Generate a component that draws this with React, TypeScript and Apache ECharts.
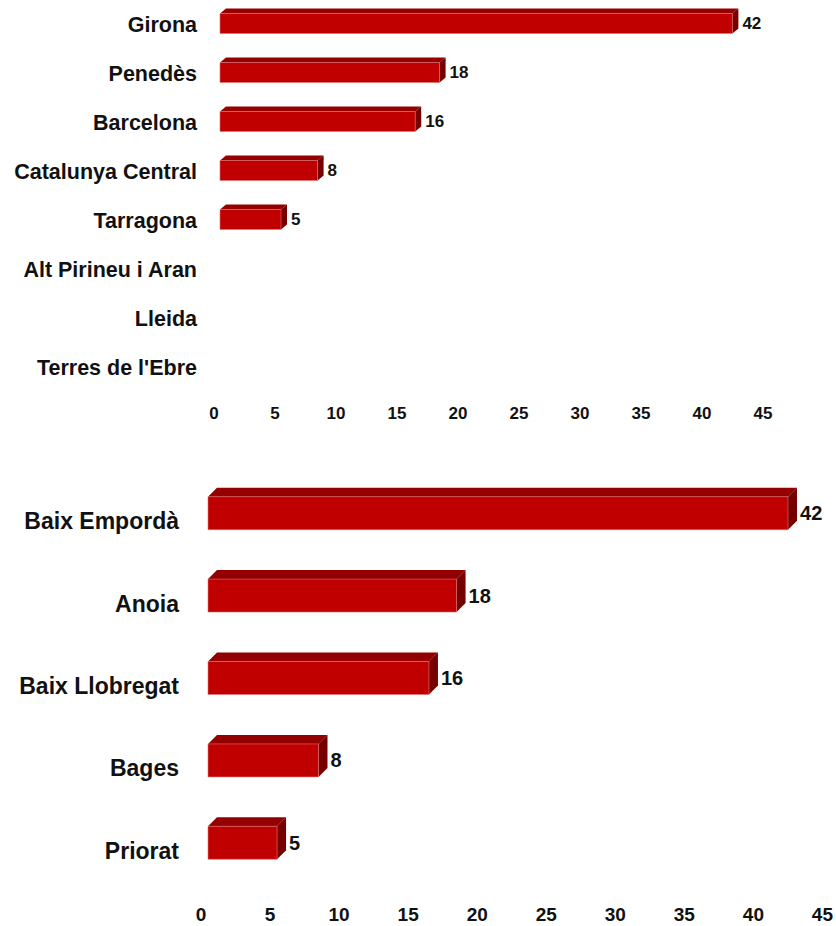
import React, { useEffect, useRef } from "react";
import * as echarts from "echarts";

const topCategories = [
  "Girona",
  "Penedès",
  "Barcelona",
  "Catalunya Central",
  "Tarragona",
  "Alt Pirineu i Aran",
  "Lleida",
  "Terres de l'Ebre",
];
const topValues = [42, 18, 16, 8, 5, 0, 0, 0];

const bottomCategories = ["Baix Empordà", "Anoia", "Baix Llobregat", "Bages", "Priorat"];
const bottomValues = [42, 18, 16, 8, 5];

const axisTicks = [0, 5, 10, 15, 20, 25, 30, 35, 40, 45];

const FONT = "'Liberation Sans', Arial, sans-serif";
const FRONT = "#C00000";
const TOPFACE = "#940000";
const SIDE = "#760000";

function make3DRender(frontH: number, dx: number, dy: number, offsetY: number, gap: number, labelSize: number) {
  return (params: any, api: any) => {
    const v = api.value(0);
    const idx = api.value(1);
    if (!v) return { type: "group", children: [] };
    const s = api.coord([0, idx]);
    const e = api.coord([v, idx]);
    const x0 = s[0];
    const x1 = e[0];
    const cy = s[1] + offsetY;
    const yT = cy - frontH / 2;
    const yB = cy + frontH / 2;
    return {
      type: "group",
      children: [
        {
          type: "polygon",
          shape: { points: [[x0, yT], [x0 + dx, yT - dy], [x1 + dx, yT - dy], [x1, yT]] },
          style: { fill: TOPFACE },
        },
        {
          type: "polygon",
          shape: { points: [[x1, yT], [x1 + dx, yT - dy], [x1 + dx, yB - dy], [x1, yB]] },
          style: { fill: SIDE },
        },
        {
          type: "rect",
          shape: { x: x0, y: yT, width: x1 - x0, height: frontH },
          style: { fill: FRONT, stroke: "#e07070", lineWidth: 0.6 },
        },
        {
          type: "text",
          x: x1 + dx + gap,
          y: cy,
          style: {
            text: String(v),
            fill: "#111",
            font: `bold ${labelSize}px ${FONT}`,
            textAlign: "left",
            textVerticalAlign: "middle",
          },
        },
      ],
    };
  };
}

export default function App() {
  const ref = useRef<HTMLDivElement>(null);
  useEffect(() => {
    document.body.style.margin = "0";
    const chart = echarts.init(ref.current!, null, { renderer: "svg" });
    const tickFmt = (val: number) => (axisTicks.includes(val) ? String(val) : "");
    chart.setOption({
      animation: false,
      backgroundColor: "#fff",
      grid: [
        { left: 220, width: 549, top: -4, height: 396 },
        { left: 208, width: 624, top: 480, height: 412 },
      ],
      xAxis: [
        {
          gridIndex: 0,
          type: "value",
          min: 0,
          max: 45,
          interval: 5,
          axisLine: { show: false },
          axisTick: { show: false },
          splitLine: { show: false },
          axisLabel: {
            formatter: tickFmt,
            fontFamily: FONT,
            fontWeight: "bold",
            fontSize: 17,
            color: "#111",
            margin: 13,
            padding: [0, 12, 0, 0],
          },
        },
        {
          gridIndex: 1,
          type: "value",
          min: 0,
          max: 45,
          interval: 5,
          axisLine: { show: false },
          axisTick: { show: false },
          splitLine: { show: false },
          axisLabel: {
            formatter: tickFmt,
            fontFamily: FONT,
            fontWeight: "bold",
            fontSize: 19,
            color: "#111",
            margin: 13,
            padding: [0, 14, 0, 0],
          },
        },
      ],
      yAxis: [
        {
          gridIndex: 0,
          type: "category",
          inverse: true,
          data: topCategories,
          axisLine: { show: false },
          axisTick: { show: false },
          axisLabel: {
            fontFamily: FONT,
            fontWeight: "bold",
            fontSize: 21.5,
            color: "#111",
            margin: 23,
          },
        },
        {
          gridIndex: 1,
          type: "category",
          inverse: true,
          data: bottomCategories,
          axisLine: { show: false },
          axisTick: { show: false },
          axisLabel: {
            fontFamily: FONT,
            fontWeight: "bold",
            fontSize: 23,
            color: "#111",
            margin: 29,
          },
        },
      ],
      series: [
        {
          type: "custom",
          xAxisIndex: 0,
          yAxisIndex: 0,
          encode: { x: 0, y: 1 },
          data: topValues.map((v, i) => [v, i]),
          renderItem: make3DRender(20, 6, 5, -1, 4, 17),
        },
        {
          type: "custom",
          xAxisIndex: 1,
          yAxisIndex: 1,
          encode: { x: 0, y: 1 },
          data: bottomValues.map((v, i) => [v, i]),
          renderItem: make3DRender(33, 9, 9, -8, 3, 20),
        },
      ],
    });
    return () => chart.dispose();
  }, []);
  return <div ref={ref} style={{ width: 836, height: 926, position: "absolute", left: 0, top: 0 }} />;
}
